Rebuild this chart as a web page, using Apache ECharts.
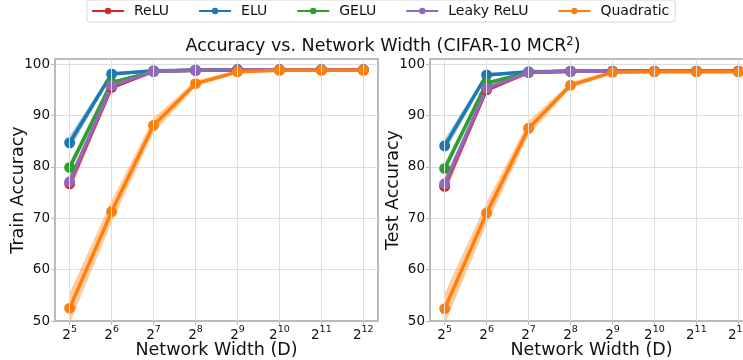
<!DOCTYPE html>
<html>
<head>
<meta charset="utf-8">
<script src="https://cdn.jsdelivr.net/npm/echarts@6/dist/echarts.min.js"></script>
<style>
  html, body { margin: 0; padding: 0; background: #fff; }
  #chart { width: 743px; height: 360px; }
</style>
</head>
<body>
<div id="chart"></div>
<script>
// x positions are log2 of network width
const widthExp = [5, 6, 7, 8, 9, 10, 11, 12];
const yTicks = [50, 60, 70, 80, 90, 100];
const methods = ['ReLU', 'ELU', 'GELU', 'Leaky ReLU', 'Quadratic'];
const colors = ['#d62728', '#1f77b4', '#2ca02c', '#9467bd', '#ff7f0e'];

// train accuracy (mean)
const trainReLU = [76.7, 95.5, 98.6, 98.8, 98.9, 98.9, 98.9, 98.9];
const trainELU = [84.7, 98.1, 98.7, 98.8, 98.9, 98.9, 98.9, 98.9];
const trainGELU = [79.9, 96.4, 98.6, 98.8, 98.9, 98.9, 98.9, 98.9];
const trainLeaky = [77.1, 95.8, 98.6, 98.8, 98.9, 98.9, 98.9, 98.9];
const trainQuad = [52.5, 71.3, 88.1, 96.2, 98.5, 98.8, 98.8, 98.8];

// test accuracy (mean)
const testReLU = [76.2, 95.0, 98.4, 98.6, 98.6, 98.6, 98.6, 98.6];
const testELU = [84.1, 97.9, 98.5, 98.6, 98.6, 98.6, 98.6, 98.6];
const testGELU = [79.7, 96.3, 98.4, 98.6, 98.6, 98.6, 98.6, 98.6];
const testLeaky = [76.7, 95.3, 98.4, 98.6, 98.6, 98.6, 98.6, 98.6];
const testQuad = [52.4, 71.0, 87.5, 95.9, 98.4, 98.5, 98.5, 98.5];

// spread (std) for the shaded bands
const stdReLU = [1.6, 0.5, 0.15, 0.1, 0.1, 0.1, 0.1, 0.1];
const stdELU = [1.3, 0.4, 0.15, 0.1, 0.1, 0.1, 0.1, 0.1];
const stdGELU = [1.0, 0.4, 0.15, 0.1, 0.1, 0.1, 0.1, 0.1];
const stdLeaky = [1.3, 0.5, 0.15, 0.1, 0.1, 0.1, 0.1, 0.1];
const stdQuad = [3.0, 2.1, 1.4, 0.6, 0.3, 0.2, 0.2, 0.2];

const trainMeans = [trainReLU, trainELU, trainGELU, trainLeaky, trainQuad];
const testMeans = [testReLU, testELU, testGELU, testLeaky, testQuad];
const stds = [stdReLU, stdELU, stdGELU, stdLeaky, stdQuad];

const font = 'DejaVu Sans';

function buildSeries(idx, means) {
  let bands = [];
  let lines = [];
  // vertical grid lines
  bands.push({
    type: 'line', xAxisIndex: idx, yAxisIndex: idx, data: [], z: 0, silent: true,
    markLine: {
      silent: true, symbol: 'none', label: { show: false },
      lineStyle: { color: '#dedede', width: 1, type: 'solid' },
      data: widthExp.map(v => ({ xAxis: v }))
    }
  });
  methods.forEach((m, i) => {
    const mean = means[i];
    const sd = stds[i];
    bands.push({
      type: 'custom', name: m + ' band', xAxisIndex: idx, yAxisIndex: idx,
      data: [[widthExp[0], mean[0]]], silent: true, z: 1,
      renderItem: function (params, api) {
        const up = widthExp.map((x, k) => api.coord([x, mean[k] + sd[k]]));
        const lo = widthExp.map((x, k) => api.coord([x, mean[k] - sd[k]])).reverse();
        const cs = params.coordSys;
        return {
          type: 'polygon',
          shape: { points: up.concat(lo) },
          style: { fill: colors[i], opacity: 0.4 },
          clipPath: { type: 'rect', shape: { x: cs.x, y: cs.y, width: cs.width, height: cs.height } }
        };
      }
    });
    lines.push({
      type: 'line', name: m, xAxisIndex: idx, yAxisIndex: idx,
      data: widthExp.map((x, k) => [x, mean[k]]),
      symbol: 'circle', symbolSize: 11, showAllSymbol: true,
      itemStyle: { color: colors[i] },
      lineStyle: { color: colors[i], width: 3.5 },
      z: 3
    });
  });
  return bands.concat(lines);
}

function xAxisOpt(idx) {
  return {
    type: 'value', gridIndex: idx, min: 4.65, max: 12.35,
    name: 'Network Width (D)', nameLocation: 'middle', nameGap: 20, nameMoveOverlap: false,
    nameTextStyle: { fontFamily: font, fontSize: 17.5, color: '#111' },
    axisLine: { show: true, lineStyle: { color: '#bbb', width: 2 } },
    axisTick: { show: true, customValues: widthExp, length: 4, lineStyle: { color: '#bbb' } },
    splitLine: { show: false },
    axisLabel: {
      customValues: widthExp, margin: 4,
      formatter: v => '{b|2}{s|' + v + '}',
      rich: {
        b: { fontFamily: font, fontSize: 13.5, color: '#111', lineHeight: 17, verticalAlign: 'bottom' },
        s: { fontFamily: font, fontSize: 9.5, color: '#111', lineHeight: 17, verticalAlign: 'top' }
      }
    }
  };
}

function yAxisOpt(idx, name) {
  return {
    type: 'value', gridIndex: idx, min: 50, max: 101, interval: 10,
    name: name, nameLocation: 'middle', nameGap: 28, nameMoveOverlap: false,
    nameTextStyle: { fontFamily: font, fontSize: 17.5, color: '#111' },
    axisLine: { show: true, lineStyle: { color: '#bbb', width: 2 } },
    axisTick: { show: true, customValues: yTicks, length: 4, lineStyle: { color: '#bbb' } },
    axisLabel: { customValues: yTicks, fontFamily: font, fontSize: 13.5, color: '#111', margin: 5 },
    splitLine: { show: true, lineStyle: { color: '#dedede', width: 1 } }
  };
}

const chart = echarts.init(document.getElementById('chart'));
chart.setOption({
  animation: false,
  backgroundColor: '#fff',
  title: {
    text: 'Accuracy vs. Network Width (CIFAR-10 MCR{s|2})',
    left: 378, top: 31, textAlign: 'center',
    textStyle: {
      fontFamily: font, fontSize: 17.5, fontWeight: 'normal', color: '#111',
      rich: { s: { fontFamily: font, fontSize: 11.5, color: '#111', verticalAlign: 'top', lineHeight: 20 } }
    }
  },
  legend: {
    data: methods, left: 87, top: 0,
    itemWidth: 32, itemHeight: 8, itemGap: 29,
    padding: [4, 6, 4, 4],
    borderColor: '#d8d8d8', borderWidth: 1, borderRadius: 3,
    textStyle: { fontFamily: font, fontSize: 14, color: '#111', padding: [0, 0, 0, 5] }
  },
  grid: [
    { left: 55, top: 59, width: 323, height: 262, outerBoundsMode: 'none', containLabel: false,
      show: true, borderColor: '#bbb', borderWidth: 2 },
    { left: 430, top: 59, width: 323, height: 262, outerBoundsMode: 'none', containLabel: false,
      show: true, borderColor: '#bbb', borderWidth: 2 }
  ],
  xAxis: [xAxisOpt(0), xAxisOpt(1)],
  yAxis: [yAxisOpt(0, 'Train Accuracy'), yAxisOpt(1, 'Test Accuracy')],
  series: buildSeries(0, trainMeans).concat(buildSeries(1, testMeans))
});
</script>
</body>
</html>
